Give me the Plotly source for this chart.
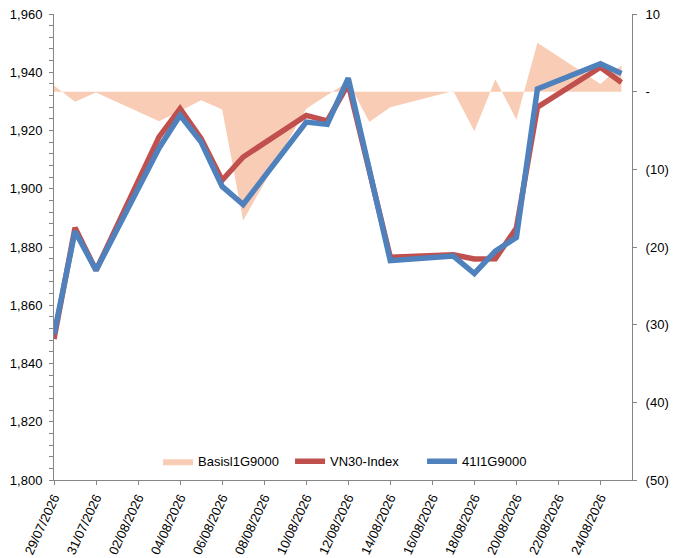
#!/usr/bin/env python3
"""Basis chart: VN30-Index vs 41I1G9000 futures, with basis area on right axis."""

import plotly.graph_objects as go

DATES = [
    "2026-07-29", "2026-07-30", "2026-07-31", "2026-08-03", "2026-08-04",
    "2026-08-05", "2026-08-06", "2026-08-07", "2026-08-10", "2026-08-11",
    "2026-08-12", "2026-08-13", "2026-08-14", "2026-08-17", "2026-08-18",
    "2026-08-19", "2026-08-20", "2026-08-21", "2026-08-24", "2026-08-25",
]
VN30 = [
    1848.4, 1886.6, 1872.0, 1917.8, 1927.5,
    1917.2, 1902.9, 1910.9, 1925.2, 1923.3,
    1935.9, 1906.5, 1876.5, 1877.3, 1875.9,
    1876.0, 1886.5, 1928.0, 1941.7, 1936.5,
]
FUT_41I1G9000 = [
    1850.0, 1885.4, 1872.0, 1914.0, 1925.2,
    1916.0, 1900.8, 1894.6, 1922.9, 1922.1,
    1938.0, 1907.0, 1875.3, 1876.9, 1870.9,
    1878.6, 1883.3, 1934.3, 1942.9, 1939.6,
]
BASIS = [
    0.8, -1.3, -0.1, -3.8, -2.5,
    -1.1, -2.3, -16.6, -2.2, -0.4,
    1.3, -3.9, -2.0, 0.1, -5.1,
    1.6, -3.6, 6.3, 1.0, 3.4,
]
RIGHT_TICKS = [-50, -40, -30, -20, -10, 0, 10]
RIGHT_LABELS = ["(50)", "(40)", "(30)", "(20)", "(10)", "-", "10"]

AXIS_GREY = "#868686"
TEXT = "#000000"
FONT = "Liberation Sans, Arial, sans-serif"

fig = go.Figure()
fig.add_trace(
    go.Scatter(
        x=DATES, y=BASIS, name="Basisl1G9000", mode="lines",
        fill="tozeroy", fillcolor="#F9CDB5", line=dict(width=0, color="#F9CDB5"),
        yaxis="y",
    )
)
fig.add_trace(
    go.Scatter(
        x=DATES, y=VN30, name="VN30-Index", mode="lines",
        line=dict(color="#C0504D", width=5.5), yaxis="y2",
    )
)
fig.add_trace(
    go.Scatter(
        x=DATES, y=FUT_41I1G9000, name="41I1G9000", mode="lines",
        line=dict(color="#4F81BD", width=5.5), yaxis="y2",
    )
)

axis_common = dict(
    showgrid=False, zeroline=False, showline=True, linecolor=AXIS_GREY,
    linewidth=1, ticks="outside", tickcolor=AXIS_GREY, ticklen=4,
    tickfont=dict(size=13, color=TEXT), automargin=False,
)

fig.update_layout(
    width=674, height=558,
    paper_bgcolor="white", plot_bgcolor="white",
    font=dict(family=FONT, size=13, color=TEXT),
    margin=dict(l=54, r=42, t=14, b=78, autoexpand=False),
    showlegend=True,
    legend=dict(
        orientation="h", x=0.18, y=0.04, xanchor="left", yanchor="middle",
        bgcolor="rgba(0,0,0,0)", font=dict(size=13),
        traceorder="normal", entrywidth=87, entrywidthmode="pixels",
    ),
    xaxis=dict(
        **axis_common,
        type="date",
        range=["2026-07-29", "2026-08-25 12:00"],
        tick0="2026-07-29", dtick=2 * 86400000,
        tickformat="%d/%m/%Y", tickangle=-65,
    ),
    yaxis=dict(
        **axis_common,
        side="right", range=[-50, 10],
        tickvals=RIGHT_TICKS, ticktext=RIGHT_LABELS,
        ticklabelstandoff=6,
    ),
    yaxis2=dict(
        **axis_common,
        side="left", overlaying="y", range=[1800, 1960],
        dtick=20, tickformat=",",
        minor=dict(dtick=4, ticks="outside", ticklen=4, tickcolor=AXIS_GREY),
        ticklabelstandoff=4,
    ),
)

# the page's default 8px body margin would shift the fixed-size figure
fig.write_html(
    "out.html",
    config={"displayModeBar": False},
    post_script="document.body.style.margin='0';",
)
